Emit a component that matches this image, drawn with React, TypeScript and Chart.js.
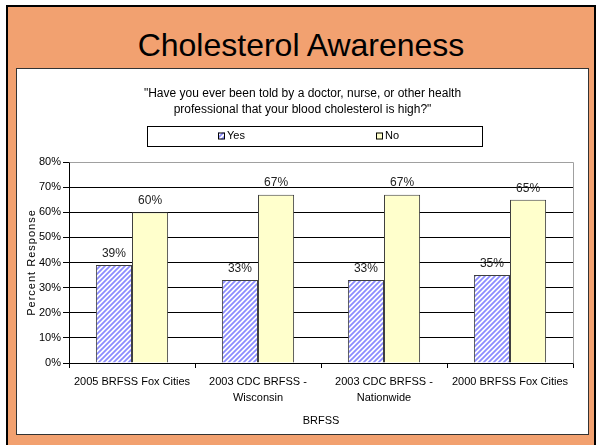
import React, { useEffect, useRef } from "react";
import { Chart, registerables } from "chart.js";

Chart.register(...registerables);

const FONT = "'Liberation Sans', Arial, Helvetica, sans-serif";

const mainTitle = "Cholesterol Awareness";
const subtitleLines = [
  "\"Have you ever been told by a doctor, nurse, or other health",
  "professional that your blood cholesterol is high?\"",
];
const categories = [
  ["2005 BRFSS Fox Cities"],
  ["2003 CDC BRFSS -", "Wisconsin"],
  ["2003 CDC BRFSS -", "Nationwide"],
  ["2000 BRFSS Fox Cities"],
];
const seriesNames = ["Yes", "No"];
const yesValues = [39, 33, 33, 35];
const noValues = [60, 67, 67, 65];
const yMin = 0;
const yMax = 80;
const yStep = 10;
const xAxisTitle = "BRFSS";
const yAxisTitle = "Percent Response";

function makeHatch(): CanvasPattern | string {
  const c = document.createElement("canvas");
  c.width = 5;
  c.height = 5;
  const g = c.getContext("2d");
  if (!g) return "#9999ff";
  g.fillStyle = "#ffffff";
  g.fillRect(0, 0, 5, 5);
  g.strokeStyle = "#8c8cff";
  g.lineWidth = 1.8;
  g.beginPath();
  g.moveTo(-1, 6);
  g.lineTo(6, -1);
  g.moveTo(-3, 3);
  g.lineTo(3, -3);
  g.moveTo(2, 8);
  g.lineTo(8, 2);
  g.stroke();
  const p = g.createPattern(c, "repeat");
  return p || "#9999ff";
}

export default function App() {
  const ref = useRef<HTMLCanvasElement | null>(null);

  useEffect(() => {
    const canvas = ref.current;
    if (!canvas) return;
    const hatch = makeHatch();
    const fills = [hatch, "#FFFFCC"];
    const edge = "#404040";

    const decor = {
      id: "decor",
      afterDatasetsDraw(chart: any) {
        const ctx = chart.ctx;
        ctx.save();
        ctx.font = `12px ${FONT}`;
        ctx.fillStyle = "#222";
        ctx.textAlign = "center";
        ctx.textBaseline = "middle";
        chart.data.datasets.forEach((ds: any, di: number) => {
          const meta = chart.getDatasetMeta(di);
          meta.data.forEach((bar: any, i: number) => {
            ctx.fillText(`${ds.data[i]}%`, bar.x, bar.y - 11.5);
          });
        });
        ctx.restore();
      },
      afterDraw(chart: any) {
        const ctx = chart.ctx;
        const a = chart.chartArea;
        ctx.save();
        // plot border (top/right) in gray
        ctx.strokeStyle = "#a0a0a0";
        ctx.lineWidth = 1;
        ctx.beginPath();
        ctx.moveTo(Math.round(a.left) + 0.5, Math.round(a.top) + 0.5);
        ctx.lineTo(Math.round(a.right) + 0.5, Math.round(a.top) + 0.5);
        ctx.lineTo(Math.round(a.right) + 0.5, Math.round(a.bottom) + 0.5);
        ctx.stroke();

        // legend box
        const bx = 130, by = 57, bw = 335, bh = 20;
        ctx.strokeStyle = "#000";
        ctx.strokeRect(bx + 0.5, by + 0.5, bw, bh);
        const itemX = [201, 359];
        const cy = by + bh / 2;
        ctx.font = `11px ${FONT}`;
        ctx.textAlign = "left";
        ctx.textBaseline = "middle";
        seriesNames.forEach((name, i) => {
          const x = itemX[i];
          ctx.fillStyle = fills[i] as any;
          ctx.fillRect(x, cy - 3.5, 7, 7);
          ctx.strokeStyle = "#000";
          ctx.strokeRect(x + 0.5, cy - 3.5 + 0.5, 6, 6);
          ctx.fillStyle = "#000";
          ctx.fillText(name, x + 9, cy);
        });

        // y axis title
        ctx.translate(15, (a.top + a.bottom) / 2);
        ctx.rotate(-Math.PI / 2);
        ctx.font = `11px ${FONT}`;
        (ctx as any).letterSpacing = "1px";
        ctx.textAlign = "center";
        ctx.textBaseline = "middle";
        ctx.fillStyle = "#000";
        ctx.fillText(yAxisTitle, 0, 0);
        ctx.restore();
      },
    };

    const chart = new Chart(canvas, {
      type: "bar",
      data: {
        labels: categories as any,
        datasets: [
          {
            label: seriesNames[0],
            data: yesValues,
            backgroundColor: hatch as any,
            borderColor: edge,
            borderWidth: 1,
            barPercentage: 1,
            categoryPercentage: 0.573,
          },
          {
            label: seriesNames[1],
            data: noValues,
            backgroundColor: "#FFFFCC",
            borderColor: edge,
            borderWidth: 1,
            barPercentage: 1,
            categoryPercentage: 0.573,
          },
        ],
      },
      options: {
        animation: false,
        responsive: false,
        devicePixelRatio: 1,
        layout: { padding: { left: 15, right: 15, top: 0, bottom: 0 } },
        font: { family: FONT },
        plugins: {
          legend: { display: false },
          tooltip: { enabled: false },
          title: {
            display: true,
            text: subtitleLines,
            color: "#000",
            font: { family: FONT, size: 12, weight: "normal", lineHeight: "16px" },
            padding: { top: 17, bottom: 44 },
          },
        },
        scales: {
          x: {
            grid: {
              display: true,
              drawOnChartArea: false,
              drawTicks: true,
              tickLength: 5,
              color: "#000",
              offset: true,
            },
            border: { display: true, color: "#000", width: 1 },
            ticks: {
              color: "#000",
              font: { family: FONT, size: 11, lineHeight: "16px" },
              padding: 6,
              maxRotation: 0,
              autoSkip: false,
            },
            title: {
              display: true,
              text: xAxisTitle,
              color: "#000",
              font: { family: FONT, size: 11 },
              padding: { top: 4, bottom: 6 },
            },
            afterFit: (s: any) => {
              s.height = 71;
            },
          },
          y: {
            min: yMin,
            max: yMax,
            ticks: {
              stepSize: yStep,
              color: "#000",
              font: { family: FONT, size: 11 },
              padding: 2,
              callback: (v: any) => `${v}%`,
            },
            grid: {
              color: (c: any) => (c.tick && c.tick.value === yMax ? "rgba(0,0,0,0)" : "#000"),
              tickColor: "#000",
              tickLength: 6,
              lineWidth: 1,
            },
            border: { display: true, color: "#000", width: 1 },
            afterFit: (s: any) => {
              s.width = 37;
            },
          },
        },
      },
      plugins: [decor],
    } as any);

    return () => chart.destroy();
  }, []);

  return (
    <div
      style={{
        position: "fixed",
        left: 0,
        top: 0,
        width: 596,
        height: 445,
        background: "#fff",
        overflow: "hidden",
      }}
    >
      <div
        style={{
          position: "absolute",
          left: 6,
          top: 5,
          width: 590,
          height: 445,
          boxSizing: "border-box",
          background: "#F2A170",
          borderLeft: "2px solid #000",
          borderTop: "2px solid #000",
          borderRight: "2px solid #000",
        }}
      />
      <div
        style={{
          position: "absolute",
          left: 6,
          width: 590,
          top: 29,
          height: 32,
          lineHeight: "32px",
          fontSize: 32,
          fontFamily: FONT,
          textAlign: "center",
          color: "#000",
          whiteSpace: "nowrap",
        }}
      >
        {mainTitle}
      </div>
      <div
        style={{
          position: "absolute",
          left: 16,
          top: 68,
          width: 573,
          height: 367,
          boxSizing: "border-box",
          border: "1px solid #333",
          background: "#fff",
        }}
      >
        <canvas ref={ref} width={571} height={365} style={{ display: "block", width: 571, height: 365 }} />
      </div>
    </div>
  );
}
